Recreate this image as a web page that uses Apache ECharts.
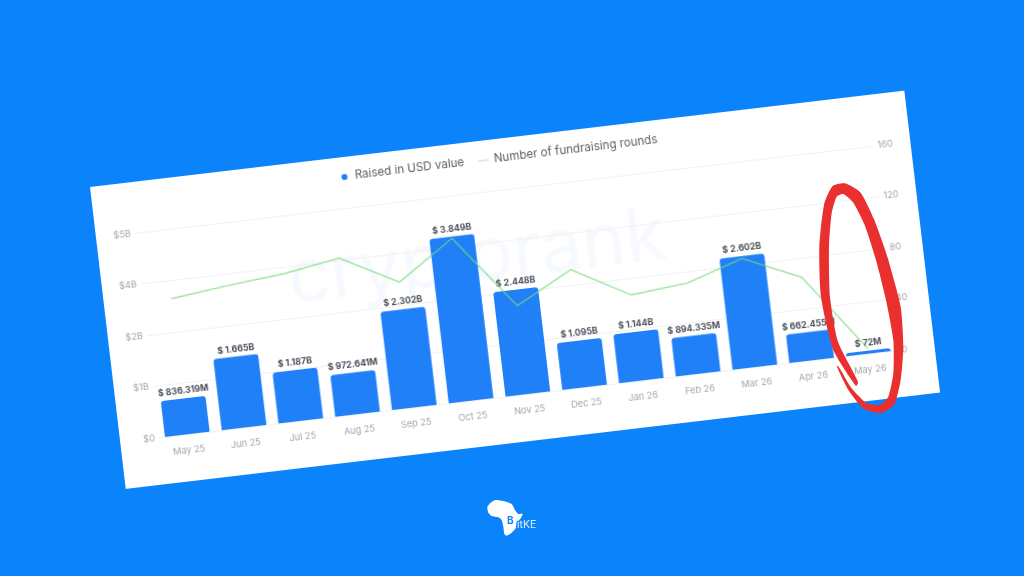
<!DOCTYPE html>
<html>
<head>
<meta charset="utf-8">
<script src="https://cdn.jsdelivr.net/npm/echarts@6/dist/echarts.min.js"></script>
<style>
html,body{margin:0;padding:0;width:1024px;height:576px;overflow:hidden;background:#0b84fb;}
#card{position:absolute;left:90px;top:187px;width:820px;height:304px;background:#fff;transform-origin:0 0;transform:rotate(-6.75deg);filter:blur(0.45px);}
#overlay{position:absolute;left:0;top:0;width:1024px;height:576px;filter:blur(0.35px);}
</style>
</head>
<body>
<div id="card"></div>
<div id="overlay"></div>
<script>
const categories = ['May 25','Jun 25','Jul 25','Aug 25','Sep 25','Oct 25','Nov 25','Dec 25','Jan 26','Feb 26','Mar 26','Apr 26','May 26'];
const raisedBillions = [0.836319,1.665,1.187,0.972641,2.302,3.849,2.448,1.095,1.144,0.894335,2.602,0.662455,0.072];
const raisedLabels = ['$ 836.319M','$ 1.665B','$ 1.187B','$ 972.641M','$ 2.302B','$ 3.849B','$ 2.448B','$ 1.095B','$ 1.144B','$ 894.335M','$ 2.602B','$ 662.455M','$ 72M'];
const rounds = [106,111,115,122,98,127,69,92,67,71,85,65,4];
const leftTickLabels = ['$0','$1B','$2B','$4B','$5B'];
const rightTickLabels = ['0','40','80','120','160'];
const seriesNames = ['Raised in USD value','Number of fundraising rounds'];

const font = 'Inter, "Noto Sans", sans-serif';
const chart = echarts.init(document.getElementById('card'), null, {width:820,height:304});
chart.setOption({
  animation:false,
  backgroundColor:'#ffffff',
  textStyle:{fontFamily:font},
  graphic:[{type:'text',z:-1,left:186,top:80,style:{text:'cryptorank',fill:'#f6f9fd',font:'normal 74px '+font}}],
  legend:{
    top:9,left:'center',itemGap:14,itemWidth:11,itemHeight:6,
    textStyle:{fontFamily:font,fontSize:11.6,color:'#5b6068'},
    data:[{name:seriesNames[0],icon:'circle'},{name:seriesNames[1],icon:'path://M0,0H12V1H0Z'}]
  },
  grid:{left:39,right:38,top:51,bottom:47},
  xAxis:{
    type:'category',data:categories,
    axisTick:{show:false},
    axisLine:{lineStyle:{color:'#eef0f2'}},
    axisLabel:{color:'#a2a6ad',fontSize:9.2,margin:12,fontFamily:font,interval:0}
  },
  yAxis:[
    {type:'value',min:0,max:4.8,interval:1.2,
     axisLine:{show:false},axisTick:{show:false},
     splitLine:{lineStyle:{color:'#f0f1f3'}},
     axisLabel:{color:'#a2a6ad',fontSize:9.2,margin:4,fontFamily:font,
       formatter:v=>leftTickLabels[Math.round(v/1.2)]}},
    {type:'value',min:0,max:160,interval:40,position:'right',
     axisLine:{show:false},axisTick:{show:false},splitLine:{show:false},
     axisLabel:{color:'#a2a6ad',fontSize:9.2,margin:5,fontFamily:font,
       formatter:v=>rightTickLabels[Math.round(v/40)]}}
  ],
  series:[
    {name:seriesNames[0],type:'bar',data:raisedBillions,barWidth:45,z:2,
     itemStyle:{color:'#1f80f8',borderRadius:[3,3,0,0]},
     label:{show:true,position:'top',distance:3,offset:[1,0],fontFamily:font,fontSize:8.8,fontWeight:'bold',color:'#4a4f5a',
       formatter:p=>raisedLabels[p.dataIndex]}},
    {name:seriesNames[1],type:'line',yAxisIndex:1,data:rounds,z:3,
     showSymbol:false,symbol:'none',
     lineStyle:{color:'rgba(120,218,120,0.75)',width:1.4},
     itemStyle:{color:'#a9e5a0'}}
  ]
});

// Hand-drawn annotation and logo, in page coordinates
const z3 = p => [720+p[0]/3, 80+p[1]/3];
const z4 = p => [470+p[0]/3, 490+p[1]/3];
const scribble = [[408,918],[340,810],[303,650],[298,500],[313,370],[338,318],[375,310],[422,338],[462,418],[502,530],[542,680],[550,800],[542,900],[522,975],[480,1000],[430,985],[385,930],[350,858],[356,860],[395,925],[440,970],[478,975],[505,950],[520,880],[520,780],[498,660],[468,540],[434,435],[400,368],[370,342],[350,350],[335,400],[327,500],[330,650],[354,785],[414,905]].map(z3);
const africa = [[52,50],[62,38],[75,30],[100,33],[125,42],[135,60],[145,72],[158,72],[150,88],[140,95],[137,115],[125,128],[110,137],[103,132],[100,110],[95,90],[85,82],[65,78],[55,68]].map(z4);
const overlay = echarts.init(document.getElementById('overlay'), null, {width:1024,height:576});
overlay.setOption({
  animation:false,
  backgroundColor:'transparent',
  graphic:[
    {type:'polygon',shape:{points:scribble,smooth:0.2},style:{fill:'#e9302f'}},
    {type:'polygon',shape:{points:africa,smooth:0.2},style:{fill:'#ffffff'}},
    {type:'text',left:507,top:516,style:{text:'B',fill:'#0b84fb',font:'bold 10px '+font}},
    {type:'text',left:517,top:519,style:{text:'itKE',fill:'#dcefff',font:'10.5px '+font}}
  ]
});
</script>
</body>
</html>
